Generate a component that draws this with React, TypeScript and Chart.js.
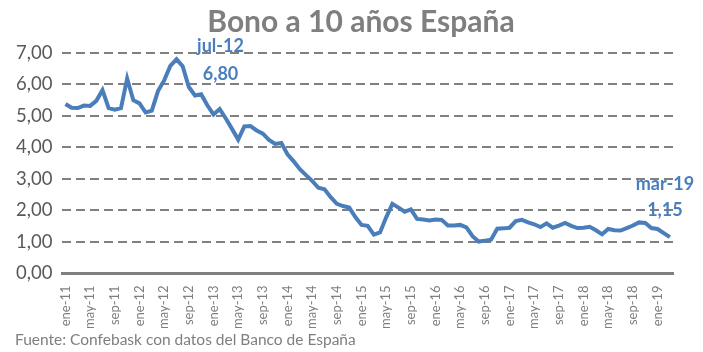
import React, { useEffect, useRef } from "react";
import { Chart, registerables } from "chart.js";

Chart.register(...registerables);

const MONTHS = ["ene", "feb", "mar", "abr", "may", "jun", "jul", "ago", "sep", "oct", "nov", "dic"];
const YEARS = [11, 12, 13, 14, 15, 16, 17, 18, 19];

const categories: string[] = [];
YEARS.forEach((y) => {
  MONTHS.forEach((m, mi) => {
    if (y === 19 && mi > 2) return;
    categories.push(`${m}-${y}`);
  });
});

const y2011 = [5.38, 5.26, 5.25, 5.33, 5.32, 5.48, 5.82, 5.25, 5.20, 5.25, 6.19, 5.50];
const y2012 = [5.40, 5.11, 5.17, 5.79, 6.13, 6.59, 6.80, 6.58, 5.92, 5.65, 5.69, 5.34];
const y2013 = [5.05, 5.22, 4.92, 4.59, 4.25, 4.67, 4.68, 4.54, 4.44, 4.24, 4.11, 4.14];
const y2014 = [3.78, 3.56, 3.31, 3.12, 2.94, 2.72, 2.67, 2.42, 2.21, 2.14, 2.09, 1.79];
const y2015 = [1.54, 1.51, 1.23, 1.30, 1.78, 2.21, 2.09, 1.96, 2.03, 1.73, 1.71, 1.68];
const y2016 = [1.71, 1.70, 1.52, 1.52, 1.54, 1.46, 1.18, 1.01, 1.04, 1.07, 1.42, 1.43];
const y2017 = [1.45, 1.66, 1.70, 1.62, 1.56, 1.47, 1.59, 1.45, 1.52, 1.60, 1.51, 1.44];
const y2018 = [1.45, 1.48, 1.37, 1.24, 1.41, 1.37, 1.36, 1.44, 1.52, 1.62, 1.60, 1.44];
const y2019 = [1.41, 1.28, 1.15];

const values = [...y2011, ...y2012, ...y2013, ...y2014, ...y2015, ...y2016, ...y2017, ...y2018, ...y2019];

const TITLE = "Bono a 10 años España";
const SOURCE = "Fuente: Confebask con datos del Banco de España";
const annotated = ["jul-12", "mar-19"];

const FONT = "Lato, 'Open Sans', sans-serif";
const BLUE = "#4a7ebb";

const fmt = (v: number) => v.toFixed(2).replace(".", ",");

export default function App() {
  const ref = useRef<HTMLCanvasElement | null>(null);

  useEffect(() => {
    if (!ref.current) return;
    const textPlugin = {
      id: "texts",
      afterDraw(chart: any) {
        const ctx = chart.ctx;
        ctx.save();
        ctx.fillStyle = "#7f7f7f";
        ctx.font = `bold 30px ${FONT}`;
        ctx.textAlign = "center";
        ctx.textBaseline = "middle";
        ctx.fillText(TITLE, 361, 22);
        ctx.font = `15.5px ${FONT}`;
        ctx.textAlign = "left";
        ctx.fillStyle = "#7f7f7f";
        ctx.fillText(SOURCE, 15, 340);

        const meta = chart.getDatasetMeta(0);
        ctx.fillStyle = BLUE;
        ctx.font = `bold 18px ${FONT}`;
        ctx.textAlign = "center";
        annotated.forEach((lab, k) => {
          const i = categories.indexOf(lab);
          const pt = meta.data[i];
          if (!pt) return;
          if (k === 0) {
            ctx.fillText(lab, pt.x + 44, pt.y - 13);
            ctx.fillText(fmt(values[i]), pt.x + 44, pt.y + 15);
          } else {
            ctx.fillText(lab, pt.x - 5, pt.y - 53);
            ctx.fillText(fmt(values[i]), pt.x - 5, pt.y - 27);
          }
        });
        ctx.restore();
      },
    };

    const chart = new Chart(ref.current, {
      type: "line",
      data: {
        labels: categories,
        datasets: [
          {
            data: values,
            borderColor: BLUE,
            borderWidth: 4,
            pointRadius: 0,
            tension: 0,
            fill: false,
          },
        ],
      },
      options: {
        animation: false,
        responsive: false,
        maintainAspectRatio: false,
        layout: { padding: { top: 53, right: 30, bottom: 19, left: 6 } },
        plugins: {
          legend: { display: false },
          tooltip: { enabled: false },
          title: { display: false },
        },
        scales: {
          x: {
            offset: true,
            grid: { display: false },
            border: { display: true, color: "#808080", width: 3 },
            ticks: {
              autoSkip: false,
              maxRotation: 90,
              minRotation: 90,
              padding: 4,
              color: "#7f7f7f",
              font: { family: FONT, size: 13 },
              callback: (v: any, i: number) => (i % 4 === 0 ? categories[i] : ""),
            },
          },
          y: {
            min: 0,
            max: 7,
            ticks: {
              stepSize: 1,
              color: "#595959",
              padding: 10,
              font: { family: FONT, size: 18.5 },
              callback: (v: any) => fmt(Number(v)),
            },
            border: { display: false, dash: [9, 5] },
            grid: {
              color: (c: any) => (c.tick && c.tick.value === 0 ? "rgba(0,0,0,0)" : "#808080"),
              lineWidth: 2,
              drawTicks: false,
            },
          },
        },
      },
      plugins: [textPlugin],
    });
    return () => chart.destroy();
  }, []);

  return (
    <div style={{ position: "fixed", left: 0, top: 0, width: 703, height: 352, background: "#fff" }}>
      <canvas ref={ref} width={703} height={352} style={{ width: 703, height: 352 }} />
    </div>
  );
}
